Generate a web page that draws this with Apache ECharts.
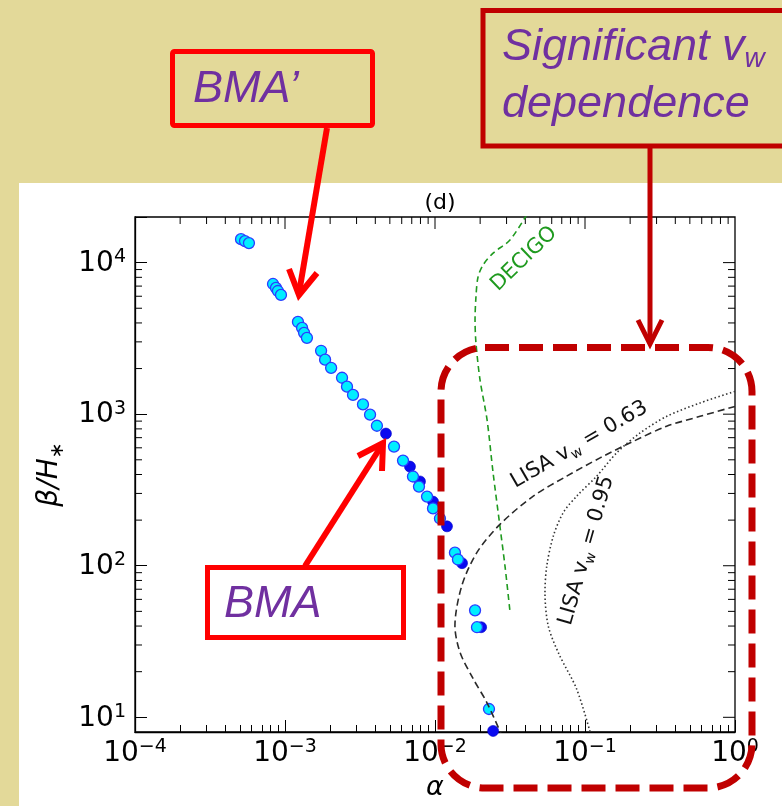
<!DOCTYPE html>
<html><head><meta charset="utf-8">
<script src="https://cdn.jsdelivr.net/npm/echarts@6/dist/echarts.min.js"></script>
<style>
html,body{margin:0;padding:0;background:#e3d999;width:782px;height:806px;overflow:hidden}
#panel{position:absolute;left:19px;top:183px;width:763px;height:623px;background:#fff}
#chart{position:absolute;left:0;top:0;width:782px;height:806px}
</style></head><body>
<div id="panel"></div><div id="chart"></div>
<script>
// ---- data ----
const bmaPrimeAlpha = [5.09e-4, 5.41e-4, 5.75e-4, 8.32e-4, 8.71e-4, 8.97e-4, 9.40e-4, 1.22e-3, 1.30e-3, 1.34e-3, 1.40e-3, 1.74e-3, 1.85e-3, 2.03e-3, 2.40e-3, 2.59e-3, 2.84e-3, 3.31e-3, 3.69e-3, 4.10e-3, 5.33e-3, 6.12e-3, 7.13e-3, 7.82e-3, 8.85e-3, 9.70e-3, 1.079e-2, 1.358e-2, 1.422e-2, 1.849e-2, 1.905e-2, 2.29e-2];
const bmaPrimeBeta = [14290, 13870, 13460, 7230, 6810, 6500, 6120, 4060, 3710, 3440, 3190, 2620, 2290, 2020, 1740, 1520, 1340, 1160, 993, 839, 611, 494, 388, 333, 286, 239, 205, 122, 110, 50.8, 39.3, 11.35];
const bmaAlpha = [4.71e-3, 6.81e-3, 7.94e-3, 9.70e-3, 1.202e-2, 1.514e-2, 2.03e-2, 2.44e-2];
const bmaBeta = [745, 451, 360, 265, 182, 104, 39.3, 8.13];
const decigoAlpha = [0.0410, 0.0316, 0.0244, 0.0209, 0.01936, 0.01875, 0.01849, 0.01875, 0.01995, 0.02223, 0.02438, 0.0271, 0.0293, 0.0316];
const decigoBeta = [20800, 14090, 11560, 9640, 8040, 5940, 4190, 2960, 1690, 920, 412, 182, 99, 50.1];
const lisa063Alpha = [1.0, 0.585, 0.350, 0.210, 0.126, 0.0755, 0.0452, 0.0271, 0.0190, 0.01507, 0.01358, 0.01469, 0.0180, 0.02213, 0.0280];
const lisa063Beta = [1125, 968, 832, 662, 515, 390, 288, 187.5, 122, 73.5, 40.1, 26.8, 17.9, 12.56, 7.53];
const lisa095Alpha = [1.0, 0.585, 0.351, 0.233, 0.1626, 0.1197, 0.0881, 0.0716, 0.0615, 0.0556, 0.0541, 0.0569, 0.0671, 0.0881, 0.1096];
const lisa095Beta = [1413, 1186, 968, 752, 556, 390, 288, 224, 157, 99.5, 66.5, 40.1, 26.1, 15.3, 7.64];
const xMajorTicks = [1e-4, 1e-3, 1e-2, 1e-1, 1];
const yMajorTicks = [10, 100, 1000, 10000];
const xRange = [1e-4, 1];
const yRange = [8, 20000];

// minor tick positions (2..9 x decade)
function minorTicks(majors, lo, hi) {
  const out = [];
  const decades = majors.slice(); decades.unshift(majors[0] / 10);
  decades.forEach(d => { for (let m = 2; m <= 9; m++) { const v = m * d; if (v > lo * 1.001 && v < hi * 0.999) out.push(v); } });
  return out;
}
const xMinorTicks = minorTicks(xMajorTicks, xRange[0], xRange[1]);
const yMinorTicks = minorTicks(yMajorTicks, 9.5, yRange[1]);
const MAJOR_LEN = 12, MINOR_LEN = 7;

function zip(a, b) { return a.map((v, i) => [v, b[i]]); }
function powLabel(value) {
  const l = Math.log10(value), e = Math.round(l);
  if (Math.abs(l - e) > 1e-6) return '';
  return '{b|10}{e|' + (e < 0 ? '\u2212' + (-e) : e) + '}';
}
const labelRich = {
  b: { fontSize: 28, fontFamily: 'DejaVu Sans', color: '#000', verticalAlign: 'bottom', lineHeight: 30 },
  e: { fontSize: 19, fontFamily: 'DejaVu Sans', color: '#000', verticalAlign: 'top', lineHeight: 20 }
};

const chart = echarts.init(document.getElementById('chart'));
const red = '#ff0000', dred = '#c00000', purple = '#7030a0';
const annFont = 'italic 45px "Liberation Sans", Arial, sans-serif';
const curveRich = (col) => ({
  a: { fontFamily: 'DejaVu Sans', fontSize: 21, fill: col, verticalAlign: 'top', lineHeight: 24 },
  s: { fontFamily: 'DejaVu Sans', fontSize: 14, fill: col, verticalAlign: 'top', lineHeight: 17, padding: [10, 0, 0, 0] }
});

const annotations = [
  { type: 'text', x: 580, y: 446, rotation: 30 * Math.PI / 180, z: 50,
    style: { text: '{a|LISA v}{s|w}{a| = 0.63}', align: 'center', verticalAlign: 'middle', rich: curveRich('#111') } },
  { type: 'text', x: 588, y: 551, rotation: 74 * Math.PI / 180, z: 50,
    style: { text: '{a|LISA v}{s|w}{a| = 0.95}', align: 'center', verticalAlign: 'middle', rich: curveRich('#111') } },
  { type: 'text', x: 524, y: 259, rotation: 44 * Math.PI / 180, z: 50,
    style: { text: 'DECIGO', align: 'center', verticalAlign: 'middle', font: '21px "DejaVu Sans"', fill: '#1f9a1f' } },
  { type: 'rect', shape: { x: 172.5, y: 51.5, width: 200, height: 74, r: 2 }, z: 100,
    style: { fill: 'rgba(0,0,0,0)', stroke: red, lineWidth: 5 } },
  { type: 'text', x: 193, y: 89, z: 101, style: { text: 'BMA\u2019', font: annFont, fill: purple, verticalAlign: 'middle' } },
  { type: 'polyline', shape: { points: [[327, 128], [299, 293]] }, z: 100, style: { stroke: red, lineWidth: 6, fill: null } },
  { type: 'polyline', shape: { points: [[289, 269], [299, 295], [317, 273]] }, z: 100, style: { stroke: red, lineWidth: 6, fill: null } },
  { type: 'rect', shape: { x: 483, y: 10.5, width: 330, height: 135.5 }, z: 100,
    style: { fill: 'rgba(0,0,0,0)', stroke: dred, lineWidth: 5 } },
  { type: 'text', x: 502, y: 49, z: 101, style: { text: '{a|Significant v}{s|w}', verticalAlign: 'middle',
      rich: { a: { font: annFont, fill: purple, verticalAlign: 'top', lineHeight: 48 },
              s: { font: 'italic 28px "Liberation Sans", Arial, sans-serif', fill: purple, verticalAlign: 'top', lineHeight: 30, padding: [20, 0, 0, 0] } } } },
  { type: 'text', x: 502, y: 104, z: 101, style: { text: 'dependence', font: annFont, fill: purple, verticalAlign: 'middle' } },
  { type: 'polyline', shape: { points: [[650, 148], [650, 342]] }, z: 100, style: { stroke: dred, lineWidth: 5, fill: null } },
  { type: 'polyline', shape: { points: [[638, 320], [650, 344], [662, 320]] }, z: 100, style: { stroke: dred, lineWidth: 5, fill: null } },
  { type: 'rect', shape: { x: 441, y: 347.5, width: 311, height: 440.5, r: 44 }, z: 100,
    style: { fill: 'rgba(0,0,0,0)', stroke: dred, lineWidth: 7, lineDash: [24, 10] } },
  { type: 'rect', shape: { x: 207.5, y: 567.5, width: 196, height: 70 }, z: 100,
    style: { fill: 'rgba(0,0,0,0)', stroke: red, lineWidth: 5 } },
  { type: 'text', x: 224, y: 604, z: 101, style: { text: 'BMA', font: annFont, fill: purple, verticalAlign: 'middle' } },
  { type: 'polyline', shape: { points: [[305, 566], [382, 445]] }, z: 100, style: { stroke: red, lineWidth: 6, fill: null } },
  { type: 'polyline', shape: { points: [[358, 456], [383, 443], [382, 471]] }, z: 100, style: { stroke: red, lineWidth: 6, fill: null } }
];

const option = {
  animation: false,
  title: {
    text: '(d)', left: 435, top: 187, textAlign: 'center',
    textStyle: { fontFamily: 'DejaVu Sans', fontSize: 22, fontWeight: 'normal', color: '#000' }
  },
  grid: { left: 135, right: 47, top: 217, bottom: 73, show: true, borderColor: '#000', borderWidth: 1.3, backgroundColor: 'rgba(0,0,0,0)' },
  xAxis: {
    type: 'log', logBase: 10, min: xRange[0], max: xRange[1],
    splitLine: { show: true, lineStyle: { color: 'rgba(0,0,0,0)' } },
    axisLine: { show: true, lineStyle: { color: '#000', width: 1.3 } },
    axisTick: { show: true, inside: true, length: MAJOR_LEN, lineStyle: { color: '#000' } },
    minorTick: { show: true, splitNumber: 9, length: MINOR_LEN, lineStyle: { color: '#000' } },
    axisLabel: { formatter: powLabel, rich: labelRich, margin: 6 },
    name: '\u03b1', nameLocation: 'middle', nameGap: 42,
    nameTextStyle: { fontFamily: 'DejaVu Sans', fontStyle: 'italic', fontSize: 27, color: '#000' }
  },
  yAxis: {
    type: 'log', logBase: 10, min: yRange[0], max: yRange[1],
    splitLine: { show: true, lineStyle: { color: 'rgba(0,0,0,0)' } },
    axisLine: { show: true, lineStyle: { color: '#000', width: 1.3 } },
    axisTick: { show: true, inside: true, length: MAJOR_LEN, lineStyle: { color: '#000' } },
    axisLabel: { formatter: powLabel, rich: labelRich, margin: 9 },
    name: '{a|\u03b2/H}{s|\u2217}', nameLocation: 'middle', nameGap: 64,
    nameTextStyle: {
      rich: {
        a: { fontFamily: 'DejaVu Sans', fontStyle: 'italic', fontSize: 28, color: '#000', verticalAlign: 'top', lineHeight: 30 },
        s: { fontFamily: 'DejaVu Sans', fontStyle: 'italic', fontSize: 19, color: '#000', verticalAlign: 'top', lineHeight: 20, padding: [13, 0, 0, 0] }
      }
    }
  },
  series: [
    { name: 'DECIGO', type: 'line', data: zip(decigoAlpha, decigoBeta), showSymbol: false, smooth: 0.3,
      lineStyle: { color: '#1f9a1f', width: 1.6, type: [6, 4] } },
    { name: 'LISA 0.63', type: 'line', data: zip(lisa063Alpha, lisa063Beta), showSymbol: false, smooth: 0.3,
      lineStyle: { color: '#2a2a2a', width: 1.6, type: [7, 4] } },
    { name: 'LISA 0.95', type: 'line', data: zip(lisa095Alpha, lisa095Beta), showSymbol: false, smooth: 0.3,
      lineStyle: { color: '#333', width: 1.6, type: [1.5, 2.5] } },
    { name: 'BMA', type: 'scatter', data: zip(bmaAlpha, bmaBeta), symbol: 'circle', symbolSize: 11,
      itemStyle: { color: '#0a0af0', borderColor: '#0000c8', borderWidth: 0.6, opacity: 1 } },
    { name: "BMA'", type: 'scatter', data: zip(bmaPrimeAlpha, bmaPrimeBeta), symbol: 'circle', symbolSize: 11,
      itemStyle: { color: '#00eeff', borderColor: '#2a3cff', borderWidth: 1.3, opacity: 1 } }
  ],
  graphic: annotations
};
chart.setOption(option);

// mirrored ticks (top, right) and y minor ticks, positioned through the chart's own log scales
const ticks = [];
function px(x, y) { return chart.convertToPixel({ xAxisIndex: 0, yAxisIndex: 0 }, [x, y]); }
function addTop(v, len) {
  const t = px(v, yRange[1]);
  if (!t || isNaN(t[0])) return;
  ticks.push({ type: 'line', shape: { x1: t[0], y1: t[1], x2: t[0], y2: t[1] + len }, style: { stroke: '#000', lineWidth: 1 } });
}
function addRight(v, len, left) {
  const r = px(xRange[1], v), l = px(xRange[0], v);
  if (!r || isNaN(r[1])) return;
  ticks.push({ type: 'line', shape: { x1: r[0], y1: r[1], x2: r[0] - len, y2: r[1] }, style: { stroke: '#000', lineWidth: 1 } });
  if (left) ticks.push({ type: 'line', shape: { x1: l[0], y1: l[1], x2: l[0] + len, y2: l[1] }, style: { stroke: '#000', lineWidth: 1 } });
}
xMajorTicks.slice(1, -1).forEach(v => addTop(v, MAJOR_LEN));
xMinorTicks.forEach(v => addTop(v, MINOR_LEN));
yMajorTicks.forEach(v => addRight(v, MAJOR_LEN, false));
yMinorTicks.forEach(v => addRight(v, MINOR_LEN, true));
chart.setOption({ graphic: annotations.concat(ticks) });
</script>
</body></html>
